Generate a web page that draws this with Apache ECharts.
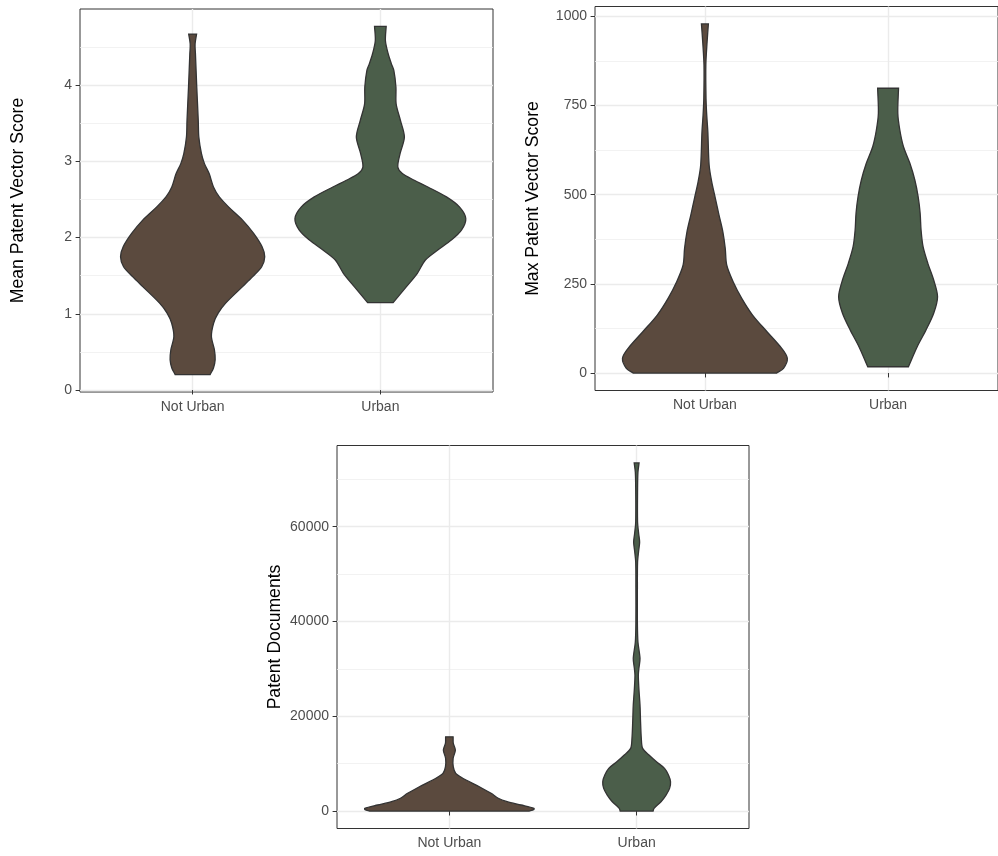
<!DOCTYPE html>
<html><head><meta charset="utf-8">
<script src="https://cdn.jsdelivr.net/npm/echarts@6/dist/echarts.min.js"></script>
<style>html,body{margin:0;padding:0;background:#fff}#c{width:998px;height:856px}</style>
</head><body><div id="c"></div>
<script>
// ---- data ----
const categories = ['Not Urban', 'Urban'];

// violin outlines: [value, half-width in category units], top -> bottom
const meanNotUrban = [[4.670,0.021],[4.539,0.013],[4.408,0.015],[3.972,0.022],[3.536,0.030],[3.318,0.033],[3.101,0.047],[2.970,0.063],[2.840,0.088],[2.664,0.111],[2.534,0.142],[2.403,0.191],[2.229,0.266],[2.055,0.325],[1.880,0.370],[1.749,0.384],[1.618,0.368],[1.488,0.320],[1.357,0.266],[1.140,0.176],[1.009,0.136],[0.879,0.112],[0.703,0.100],[0.529,0.116],[0.399,0.120],[0.290,0.111],[0.203,0.093]];
const meanUrban = [[4.770,0.031],[4.582,0.027],[4.408,0.042],[4.278,0.059],[4.190,0.072],[3.972,0.083],[3.755,0.084],[3.536,0.107],[3.318,0.128],[3.101,0.105],[2.926,0.093],[2.840,0.117],[2.752,0.181],[2.664,0.253],[2.534,0.352],[2.403,0.421],[2.251,0.455],[2.098,0.432],[1.968,0.378],[1.837,0.306],[1.706,0.240],[1.532,0.197],[1.357,0.139],[1.148,0.068]];

const maxNotUrban = [[978.7,0.019],[929,0.012],[863.7,0.005],[770,0.006],[723,0.010],[676.7,0.016],[583.3,0.023],[536.5,0.037],[489.9,0.057],[443,0.077],[396,0.098],[349.7,0.111],[302.9,0.119],[256,0.154],[209.5,0.201],[162.6,0.260],[115.8,0.339],[69.3,0.419],[41.2,0.450],[13.2,0.429],[0,0.392]];
const maxUrban = [[798.4,0.057],[728.3,0.053],[681.4,0.064],[634.6,0.084],[588,0.119],[541.2,0.146],[494.4,0.164],[447.8,0.175],[401,0.180],[354.2,0.191],[307.6,0.217],[260.8,0.249],[214,0.270],[167.4,0.249],[120.6,0.207],[73.8,0.159],[17.7,0.111]];

const docsNotUrban = [[15670,0.020],[14280,0.021],[12870,0.032],[11120,0.020],[9350,0.021],[7960,0.034],[7245,0.059],[6550,0.089],[5140,0.160],[3750,0.223],[2700,0.261],[1980,0.309],[1285,0.383],[590,0.452],[300,0.450],[0,0.426]];
const docsUrban = [[73460,0.013],[71480,0.007],[67990,0.005],[60950,0.005],[58510,0.011],[56740,0.016],[54990,0.011],[52530,0.005],[46930,0.004],[39890,0.004],[35680,0.007],[32180,0.018],[30080,0.012],[28660,0.009],[25860,0.012],[22350,0.018],[18830,0.021],[15330,0.025],[13230,0.032],[11820,0.066],[10400,0.106],[9010,0.149],[7600,0.170],[6190,0.181],[4800,0.176],[3390,0.157],[1980,0.130],[590,0.093],[0,0.088]];

const meanTicks = [0, 1, 2, 3, 4];
const meanMinor = [0.5, 1.5, 2.5, 3.5, 4.5];
const maxTicks = [0, 250, 500, 750, 1000];
const maxMinor = [125, 375, 625, 875];
const docsTicks = [0, 20000, 40000, 60000];
const docsMinor = [10000, 30000, 50000, 70000];

const titles = ['Mean Patent Vector Score', 'Max Patent Vector Score', 'Patent Documents'];

// ---- styling ----
const FONT = '"Liberation Sans", Arial, Helvetica, sans-serif';
const fillNotUrban = '#5B4A3E';
const fillUrban = '#4B5E4A';
const outline = '#333333';

const panels = [
  {profiles: [meanNotUrban, meanUrban], ticks: meanTicks, minor: meanMinor, grid: {left: 80, top: 9, width: 413, height: 383}},
  {profiles: [maxNotUrban, maxUrban], ticks: maxTicks, minor: maxMinor, grid: {left: 595, top: 6.5, width: 414, height: 384}},
  {profiles: [docsNotUrban, docsUrban], ticks: docsTicks, minor: docsMinor, grid: {left: 337, top: 445.5, width: 412, height: 383}}
];

function range(profiles) {
  let lo = Infinity, hi = -Infinity;
  profiles.forEach(p => p.forEach(d => { lo = Math.min(lo, d[0]); hi = Math.max(hi, d[0]); }));
  const s = hi - lo;
  return [lo - 0.05 * s, hi + 0.05 * s];
}

const grids = [], xAxes = [], yAxes = [], series = [];
panels.forEach((p, g) => {
  grids.push(Object.assign({show: true, borderColor: outline, borderWidth: 1, backgroundColor: 'transparent', containLabel: false}, p.grid));
  const r = range(p.profiles);
  xAxes.push({
    type: 'value', gridIndex: g, min: 0.4, max: 2.6,
    axisLine: {show: false},
    axisTick: {show: true, customValues: [1, 2], length: 4.4, lineStyle: {color: outline, width: 1}},
    axisLabel: {show: true, customValues: [1, 2], formatter: v => categories[Math.round(v) - 1], fontSize: 14, color: '#4D4D4D', fontFamily: FONT, margin: 8},
    splitLine: {show: true, lineStyle: {color: '#EBEBEB', width: 1.4}}
  });
  yAxes.push({
    type: 'value', gridIndex: g, min: r[0], max: r[1], position: 'left',
    name: titles[g], nameLocation: 'middle', nameGap: 53,
    nameTextStyle: {fontSize: 17.6, color: '#000000', fontFamily: FONT},
    axisLine: {show: false},
    axisTick: {show: true, customValues: p.ticks, length: 4.4, lineStyle: {color: outline, width: 1}},
    axisLabel: {show: true, customValues: p.ticks, formatter: v => String(v), fontSize: 14, color: '#4D4D4D', fontFamily: FONT, margin: 8},
    splitLine: {show: true, lineStyle: {color: '#EBEBEB', width: 1.4}}
  });
  yAxes.push({
    type: 'value', gridIndex: g, min: r[0], max: r[1], position: 'right',
    axisLine: {show: false},
    axisTick: {show: false, customValues: p.minor},
    axisLabel: {show: false, customValues: p.minor},
    splitLine: {show: true, lineStyle: {color: '#EFEFEF', width: 0.8}}
  });
  p.profiles.forEach((prof, ci) => {
    const color = ci === 0 ? fillNotUrban : fillUrban;
    series.push({
      type: 'custom', xAxisIndex: g, yAxisIndex: g * 2, silent: true,
      data: [[ci + 1, prof[0][0]]],
      renderItem: function (params, api) {
        const x0 = ci + 1;
        const n = prof.length;
        const pts = [];
        // right side, top -> bottom (corner points doubled to keep caps flat and sharp)
        for (let i = 0; i < n; i++) {
          const c = api.coord([x0 + prof[i][1], prof[i][0]]);
          pts.push(c);
          if (i === 0 || i === n - 1) pts.push(c.slice());
        }
        // left side, bottom -> top
        for (let i = n - 1; i >= 0; i--) {
          const c = api.coord([x0 - prof[i][1], prof[i][0]]);
          pts.push(c);
          if (i === 0 || i === n - 1) pts.push(c.slice());
        }
        return {type: 'polygon', shape: {points: pts, smooth: 0.3}, style: {fill: color, stroke: outline, lineWidth: 1.3}};
      }
    });
  });
});

const chart = echarts.init(document.getElementById('c'), null, {renderer: 'canvas'});
chart.setOption({
  animation: false,
  backgroundColor: '#ffffff',
  textStyle: {fontFamily: FONT},
  grid: grids, xAxis: xAxes, yAxis: yAxes, series: series
});
</script>
</body></html>
